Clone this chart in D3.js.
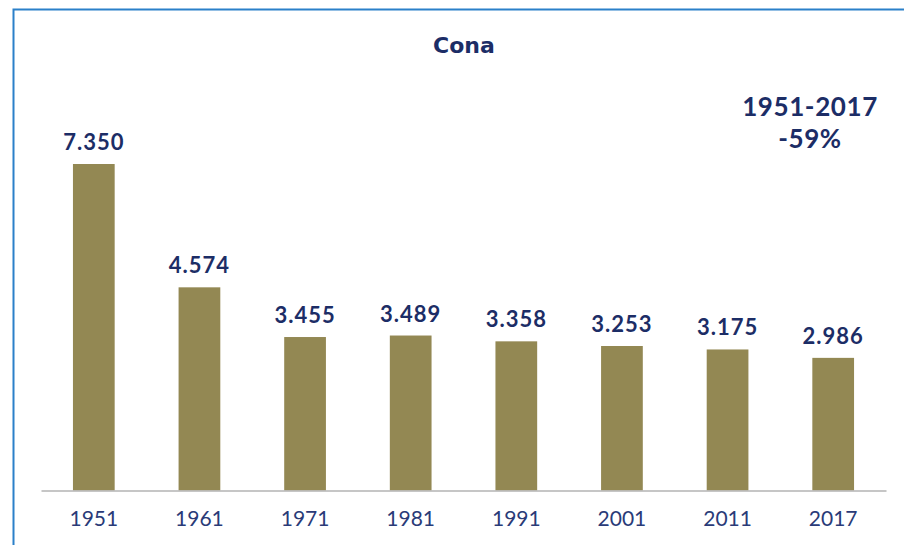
<!DOCTYPE html>
<html>
<head>
<meta charset="utf-8">
<script src="https://cdn.jsdelivr.net/npm/d3@7"></script>
<style>
  body { margin: 0; background: #fff; }
  svg { display: block; }
</style>
</head>
<body>
<div class="canvas"></div>
<script>
    const years = ['1951', '1961', '1971', '1981', '1991', '2001', '2011', '2017'];
    const values = [7.350, 4.574, 3.455, 3.489, 3.358, 3.253, 3.175, 2.986];
    const valueLabels = ['7.350', '4.574', '3.455', '3.489', '3.358', '3.253', '3.175', '2.986'];
    const title = 'Cona';
    const noteLines = ['1951-2017', '-59%'];

    const dims = { width: 904, height: 545 };
    const plot = { left: 41, right: 886, base: 490.5 };
    const navy = '#1c2d66';

    const svg = d3.select('.canvas').append('svg')
        .attr('width', dims.width)
        .attr('height', dims.height);

    // frame (left and top edge of the slide box)
    svg.append('path')
        .attr('d', `M13.5,${dims.height} V9.5 H${dims.width}`)
        .attr('fill', 'none')
        .attr('stroke', '#2b80c9')
        .attr('stroke-width', 2);

    const x = d3.scaleBand()
        .domain(years)
        .range([plot.left, plot.right])
        .padding(0);

    const y = d3.scaleLinear()
        .domain([0, 8])
        .range([plot.base, plot.base - 8 * 44.42]);

    const barW = x.bandwidth() * 0.395;

    svg.append('g').selectAll('rect')
        .data(values)
        .enter()
        .append('rect')
        .attr('x', (d, i) => x(years[i]) + x.bandwidth() / 2 - barW / 2)
        .attr('y', d => y(d))
        .attr('width', barW)
        .attr('height', d => y(0) - y(d))
        .attr('fill', '#938853');

    // baseline
    const xAxis = svg.append('g')
        .attr('transform', `translate(0,${plot.base})`)
        .call(d3.axisBottom(x).tickSize(0).tickPadding(21));
    xAxis.select('.domain').attr('stroke', '#b3b3b3').attr('stroke-width', 1.5);
    xAxis.selectAll('text')
        .attr('fill', '#2a3b78')
        .style('font-family', 'Lato, "DejaVu Sans", sans-serif')
        .style('font-size', '21px');

    // value labels
    svg.append('g').selectAll('text')
        .data(values)
        .enter()
        .append('text')
        .attr('x', (d, i) => x(years[i]) + x.bandwidth() / 2)
        .attr('y', d => y(d) - 14)
        .attr('text-anchor', 'middle')
        .attr('fill', navy)
        .style('font-family', 'Lato, "DejaVu Sans", sans-serif')
        .style('font-weight', 'bold')
        .style('font-size', '22px')
        .style('letter-spacing', '1px')
        .text((d, i) => valueLabels[i]);

    svg.append('text')
        .attr('x', 464)
        .attr('y', 53)
        .attr('text-anchor', 'middle')
        .attr('fill', navy)
        .style('font-family', '"DejaVu Sans", sans-serif')
        .style('font-weight', 'bold')
        .style('font-size', '22px')
        .text(title);

    svg.append('g').selectAll('text')
        .data(noteLines)
        .enter()
        .append('text')
        .attr('x', 810)
        .attr('y', (d, i) => 116 + i * 32)
        .attr('text-anchor', 'middle')
        .attr('fill', navy)
        .style('font-family', 'Lato, "DejaVu Sans", sans-serif')
        .style('font-weight', 'bold')
        .style('font-size', '26px')
        .style('letter-spacing', '0.6px')
        .text(d => d);
</script>
</body>
</html>
